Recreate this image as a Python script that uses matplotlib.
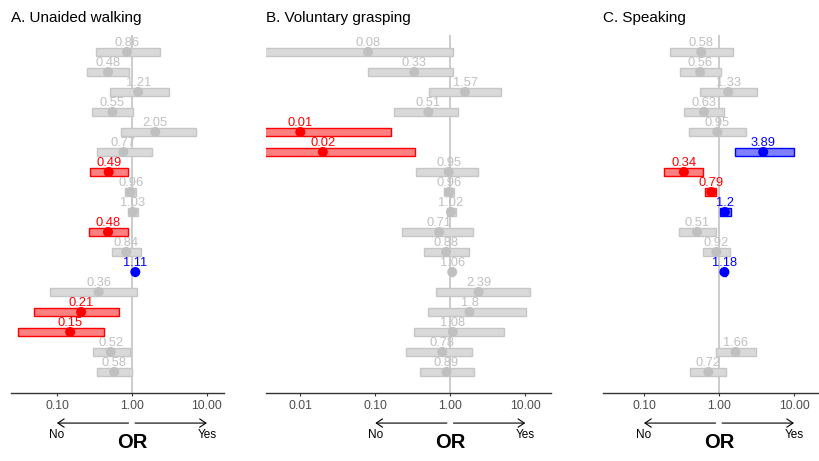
import numpy as np
import matplotlib.pyplot as plt

plt.rcParams['font.family'] = ['Liberation Sans', 'DejaVu Sans']

nan = np.nan

# A. Unaided walking
walk_or = [0.86, 0.48, 1.21, 0.55, 2.05, 0.77, 0.49, 0.96, 1.03, 0.48, 0.84, 1.11, 0.36, 0.21, 0.15, 0.52, 0.58]
walk_lo = [0.33, 0.25, 0.51, 0.29, 0.72, 0.34, 0.28, 0.81, 0.89, 0.27, 0.54, 1.07, 0.081, 0.050, 0.030, 0.30, 0.34]
walk_hi = [2.36, 0.92, 3.08, 1.02, 7.06, 1.87, 0.88, 1.13, 1.19, 0.88, 1.31, 1.15, 1.17, 0.67, 0.43, 0.93, 0.99]
walk_sig = ['ns', 'ns', 'ns', 'ns', 'ns', 'ns', 'neg', 'ns', 'ns', 'neg', 'ns', 'pos', 'ns', 'neg', 'neg', 'ns', 'ns']

# B. Voluntary grasping
grasp_or = [0.08, 0.33, 1.57, 0.51, 0.01, 0.02, 0.95, 0.96, 1.02, 0.71, 0.88, 1.06, 2.39, 1.8, 1.08, 0.78, 0.89]
grasp_lo = [0.002, 0.081, 0.525, 0.18, 0.001, 0.001, 0.352, 0.82, 0.89, 0.23, 0.445, 1.02, 0.65, 0.505, 0.325, 0.26, 0.39]
grasp_hi = [1.08, 1.09, 4.79, 1.25, 0.162, 0.335, 2.36, 1.13, 1.19, 2.03, 1.76, 1.10, 11.6, 10.3, 5.15, 1.95, 2.05]
grasp_sig = ['ns', 'ns', 'ns', 'ns', 'neg', 'neg', 'ns', 'ns', 'ns', 'ns', 'ns', 'ns', 'ns', 'ns', 'ns', 'ns', 'ns']

# C. Speaking (three rows not estimated)
speak_or = [0.58, 0.56, 1.33, 0.63, 0.95, 3.89, 0.34, 0.79, 1.2, 0.51, 0.92, 1.18, nan, nan, nan, 1.66, 0.72]
speak_lo = [0.22, 0.30, 0.56, 0.34, 0.40, 1.65, 0.187, 0.66, 1.03, 0.29, 0.61, 1.13, nan, nan, nan, 0.90, 0.41]
speak_hi = [1.55, 1.06, 3.18, 1.15, 2.31, 10.1, 0.62, 0.91, 1.43, 0.90, 1.39, 1.23, nan, nan, nan, 3.08, 1.23]
speak_sig = ['ns', 'ns', 'ns', 'ns', 'ns', 'pos', 'neg', 'neg', 'pos', 'ns', 'ns', 'pos', 'ns', 'ns', 'ns', 'ns', 'ns']

fill_col = {'ns': '#d9d9d9', 'neg': '#ff8080', 'pos': '#8080ff'}
edge_col = {'ns': '#c6c6c6', 'neg': '#ff0000', 'pos': '#0000ff'}
pt_col = {'ns': '#c0c0c0', 'neg': '#ff0000', 'pos': '#0000ff'}

fig = plt.figure(figsize=(8.19, 4.61), dpi=100)
W, H = 819.0, 461.0


def panel(left, width, xlim, ticks, title, ors, los, his, sig):
    ax = fig.add_axes([left / W, 68 / H, width / W, 358 / H])
    ax.set_xscale('log')
    n = len(ors)
    rows = np.arange(n)
    ors = np.array(ors, dtype=float)
    los = np.array(los, dtype=float)
    his = np.array(his, dtype=float)
    ok = ~np.isnan(ors)

    ax.axvline(1, color='#c8c8c8', lw=1.3, zorder=0)
    ax.barh(rows[ok], (his - los)[ok], left=los[ok], height=0.36,
            color=[fill_col[s] for s, k in zip(sig, ok) if k],
            edgecolor=[edge_col[s] for s, k in zip(sig, ok) if k],
            linewidth=1.0, zorder=2)
    ax.scatter(ors[ok], rows[ok], s=52, zorder=3, linewidths=0,
               c=[pt_col[s] for s, k in zip(sig, ok) if k])
    for r, v, s in zip(rows, ors, sig):
        if np.isnan(v):
            continue
        ax.text(v, r - 0.47, '%g' % v, ha='center', va='center',
                fontsize=9.3, color=pt_col[s], zorder=4)

    ax.set_xlim(*xlim)
    ax.set_ylim(17.05, -0.85)
    ax.set_yticks([])
    ax.set_xticks(ticks)
    ax.set_xticklabels(['%.2f' % t for t in ticks])
    ax.minorticks_off()
    ax.tick_params(axis='x', length=2.5, width=0.8, color='#333333',
                   labelsize=8.7, labelcolor='#4d4d4d', pad=2.5)
    for sp in ['left', 'right', 'top']:
        ax.spines[sp].set_visible(False)
    ax.spines['bottom'].set_color('#333333')
    ax.spines['bottom'].set_linewidth(1.0)

    ax.text(0, 1.047, title, transform=ax.transAxes, ha='left', va='center',
            fontsize=11, color='black')

    tr = ax.get_xaxis_transform()
    arrow = dict(arrowstyle='->,head_length=0.45,head_width=0.3', color='black',
                 lw=0.8, shrinkA=0, shrinkB=0)
    ax.annotate('', xy=(0.1, -0.084), xytext=(0.9, -0.084), xycoords=tr,
                textcoords=tr, arrowprops=arrow, annotation_clip=False)
    ax.annotate('', xy=(10, -0.084), xytext=(1.1, -0.084), xycoords=tr,
                textcoords=tr, arrowprops=arrow, annotation_clip=False)
    ax.text(0.1, -0.117, 'No', transform=tr, ha='center', va='center',
            fontsize=8.5, color='black')
    ax.text(10, -0.117, 'Yes', transform=tr, ha='center', va='center',
            fontsize=8.5, color='black')
    ax.text(1, -0.138, 'OR', transform=tr, ha='center', va='center',
            fontsize=14.5, fontweight='bold', color='black')
    return ax


panel(11, 213, (0.0244, 16.9), [0.1, 1, 10], 'A. Unaided walking',
      walk_or, walk_lo, walk_hi, walk_sig)
panel(266, 285, (0.00349, 22.0), [0.01, 0.1, 1, 10], 'B. Voluntary grasping',
      grasp_or, grasp_lo, grasp_hi, grasp_sig)
panel(603, 215, (0.0284, 20.9), [0.1, 1, 10], 'C. Speaking',
      speak_or, speak_lo, speak_hi, speak_sig)

fig.savefig('out.png', dpi=100)
